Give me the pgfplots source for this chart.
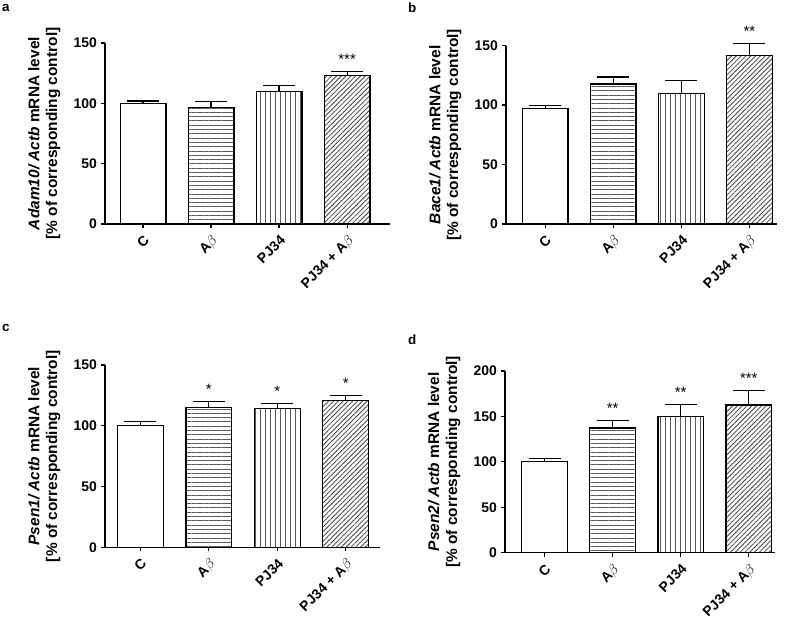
\documentclass[border=0pt]{standalone}
\usepackage{fontspec}
\setmainfont{Liberation Sans}
\usepackage{pgfplots}
\pgfplotsset{compat=1.18}
\usetikzlibrary{patterns.meta}

\pgfplotsset{
  panel/.style={
    scale only axis,
    anchor=south west,
    clip=false,
    axis x line=bottom, axis y line=left,
    axis line style={-, line width=1.3bp},
    ymin=0,
    tick align=outside,
    major tick length=4bp,
    tick style={line width=1.3bp, black},
    xtick={0,1,2,3},
    xticklabels={C, A$\beta$, PJ34, PJ34 + A$\beta$},
    xticklabel shift=4bp,
    xticklabel style={rotate=45, anchor=north east, font=\bfseries\fontsize{14}{14}\selectfont, inner sep=1.5bp},
    yticklabel style={font=\bfseries\fontsize{14}{14}\selectfont, inner sep=4bp},
    /pgf/number format/assume math mode=true,
    ylabel style={align=center, font=\bfseries\fontsize{15.5}{18}\selectfont, anchor=south},
    ybar, bar width=0.67,
  },
  eb/.style={error bars/.cd, y dir=plus, y explicit,
    error bar style={line width=1.3bp, black, solid},
    error mark options={rotate=90, mark size=16bp, line width=1.3bp, black}},
  cbar/.style={draw=black, line width=1.3bp, fill=white, bar shift=0pt, eb},
  abar/.style={draw=black, line width=1.3bp, bar shift=0pt, pattern={Lines[angle=0,distance=4.3bp,line width=0.9bp]}, pattern color=black!65, eb},
  pbar/.style={draw=black, line width=1.3bp, bar shift=0pt, pattern={Lines[angle=90,distance=5bp,line width=0.9bp]}, pattern color=black!65, eb},
  dbar/.style={draw=black, line width=1.3bp, bar shift=0pt, pattern={Lines[angle=45,distance=3.4bp,line width=0.8bp]}, pattern color=black!75, eb},
}
\tikzset{stars/.style={anchor=base, yshift=7bp, inner sep=0pt, font=\fontsize{15}{15}\selectfont},
  panellet/.style={anchor=base west, inner sep=0pt, font=\bfseries\fontsize{13.5}{13.5}\selectfont}}

\begin{document}
\begin{tikzpicture}
\useasboundingbox (0,0) rectangle (787bp,624bp);

% panel a
\begin{axis}[panel, at={(105bp,400bp)}, width=285bp, height=181bp,
  xmin=-0.56, xmax=3.63, ymax=150, ytick={0,50,100,150},
  ylabel style={at={(axis description cs:-0.1439,0.5)}},
  ylabel={\textit{Adam10/ Actb} mRNA level\\{[}\% of corresponding control{]}}]
\addplot[cbar] coordinates {(0,100) +- (0,2.0)};
\addplot[abar] coordinates {(1,96.7) +- (0,4.6)};
\addplot[pbar] coordinates {(2,109.6) +- (0,5.4)};
\addplot[dbar] coordinates {(3,122.9) +- (0,3.3)};
\node[stars] at (axis cs:3,126.2) {***};
\end{axis}

% panel b
\begin{axis}[panel, at={(506bp,400bp)}, width=270.7bp, height=178.3bp,
  xmin=-0.576, xmax=3.40, ymax=150, ytick={0,50,100,150},
  ylabel style={at={(axis description cs:-0.1515,0.5)}},
  ylabel={\textit{Bace1/ Actb} mRNA level\\{[}\% of corresponding control{]}}]
\addplot[cbar] coordinates {(0,97.3) +- (0,2.5)};
\addplot[abar] coordinates {(1,117.7) +- (0,5.9)};
\addplot[pbar] coordinates {(2,109.6) +- (0,10.9)};
\addplot[dbar] coordinates {(3,141.5) +- (0,10.5)};
\node[stars] at (axis cs:3,152) {**};
\end{axis}

% panel c
\begin{axis}[panel, at={(105bp,76.7bp)}, width=275bp, height=182.3bp,
  xmin=-0.516, xmax=3.50, ymax=150, ytick={0,50,100,150},
  ylabel style={at={(axis description cs:-0.149,0.5)}},
  ylabel={\textit{Psen1/ Actb} mRNA level\\{[}\% of corresponding control{]}}]
\addplot[cbar] coordinates {(0,100) +- (0,3.6)};
\addplot[abar] coordinates {(1,114.8) +- (0,4.9)};
\addplot[pbar] coordinates {(2,114.2) +- (0,4.3)};
\addplot[dbar] coordinates {(3,120.7) +- (0,4.4)};
\node[stars] at (axis cs:1,119.7) {*};
\node[stars] at (axis cs:2,118.5) {*};
\node[stars] at (axis cs:3,125.1) {*};
\end{axis}

% panel d
\begin{axis}[panel, at={(505bp,71.3bp)}, width=270bp, height=181.7bp,
  xmin=-0.58, xmax=3.385, ymax=200, ytick={0,50,100,150,200},
  ylabel style={at={(axis description cs:-0.152,0.5)}},
  ylabel={\textit{Psen2/ Actb} mRNA level\\{[}\% of corresponding control{]}}]
\addplot[cbar] coordinates {(0,100) +- (0,4.0)};
\addplot[abar] coordinates {(1,137.1) +- (0,8.4)};
\addplot[pbar] coordinates {(2,150.3) +- (0,12.8)};
\addplot[dbar] coordinates {(3,162.7) +- (0,15.6)};
\node[stars] at (axis cs:1,145.5) {**};
\node[stars] at (axis cs:2,163.1) {**};
\node[stars] at (axis cs:3,178.3) {***};
\end{axis}

\node[panellet] at (2bp,612bp) {a};
\node[panellet] at (408bp,611bp) {b};
\node[panellet] at (2bp,292bp) {c};
\node[panellet] at (408bp,279bp) {d};
\end{tikzpicture}
\end{document}
